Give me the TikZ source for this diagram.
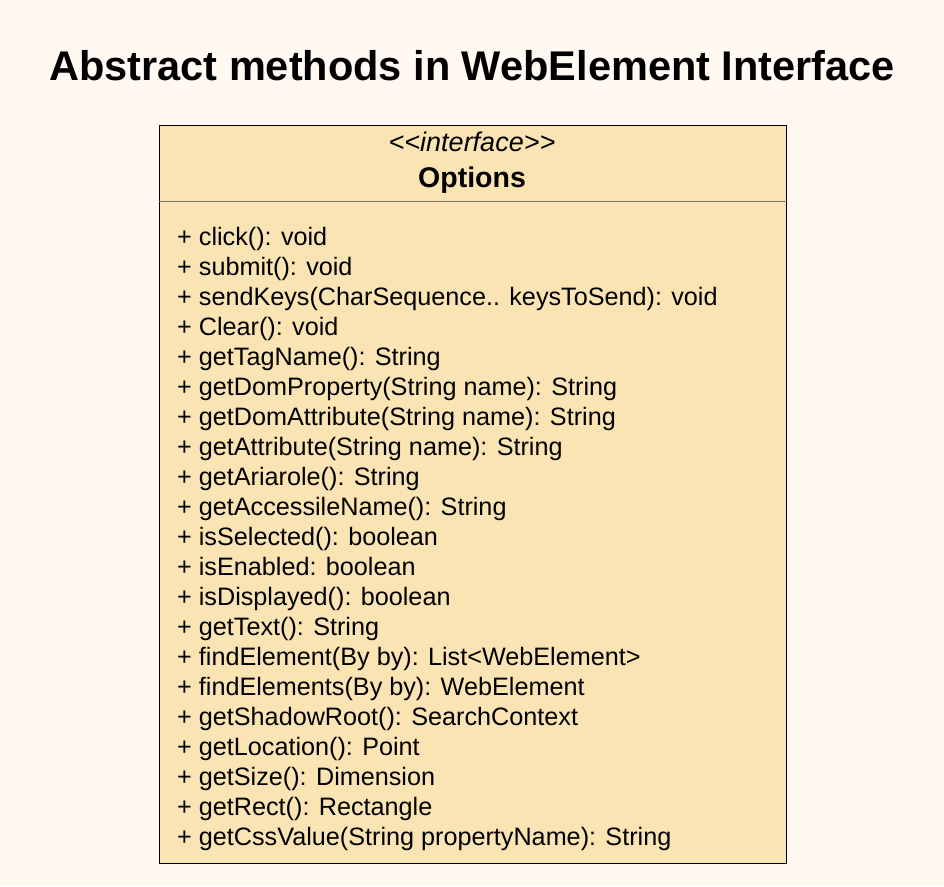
\documentclass[tikz,border=0pt]{standalone}
\usepackage{fontspec}
\setmainfont{Liberation Sans}
\definecolor{bgc}{HTML}{FFF9F2}
\definecolor{boxfill}{HTML}{FAE4B3}
\definecolor{sepc}{HTML}{7A7262}
\tikzset{
  member/.style={anchor=base west, inner sep=0pt, font=\fontsize{25.2}{30}\selectfont},
}
\begin{document}
\begin{tikzpicture}[x=1pt,y=-1pt]
\fill[bgc] (0,0) rectangle (944,886);
\useasboundingbox (0,0) rectangle (944,886);
\node[anchor=base, inner sep=0pt, font=\fontsize{41.5}{48}\selectfont\bfseries] (title) at (472,80.5) {Abstract methods in WebElement Interface};
\node[draw=black, line width=1.2pt, fill=boxfill, minimum width=627, minimum height=738.5, inner sep=0pt, anchor=north west] (box) at (158.5,124.5) {};
\draw[sepc, line width=1.6pt] (box.west |- 0,201.5) coordinate (sl) -- (box.east |- 0,201.5) coordinate (sr);
\node[anchor=base, inner sep=0pt, font=\fontsize{27}{30}\selectfont\itshape] (stereo) at (472,151) {{<}{<}interface{>}{>}};
\node[anchor=base, inner sep=0pt, font=\fontsize{28.5}{32}\selectfont\bfseries] (name) at (472,187.3) {Options};
\foreach \t [count=\i] in {
+ click(): void,
+ submit(): void,
+ sendKeys(CharSequence.. keysToSend): void,
+ Clear(): void,
+ getTagName(): String,
+ getDomProperty(String name): String,
+ getDomAttribute(String name): String,
+ getAttribute(String name): String,
+ getAriarole(): String,
+ getAccessileName(): String,
+ isSelected(): boolean,
+ isEnabled: boolean,
+ isDisplayed(): boolean,
+ getText(): String,
+ findElement(By by): List<WebElement>,
+ findElements(By by): WebElement,
+ getShadowRoot(): SearchContext,
+ getLocation(): Point,
+ getSize(): Dimension,
+ getRect(): Rectangle,
+ getCssValue(String propertyName): String
}{
  \node[member] (m\i) at (177,{245+30*(\i-1)}) {\t};
}
\end{tikzpicture}
\end{document}
